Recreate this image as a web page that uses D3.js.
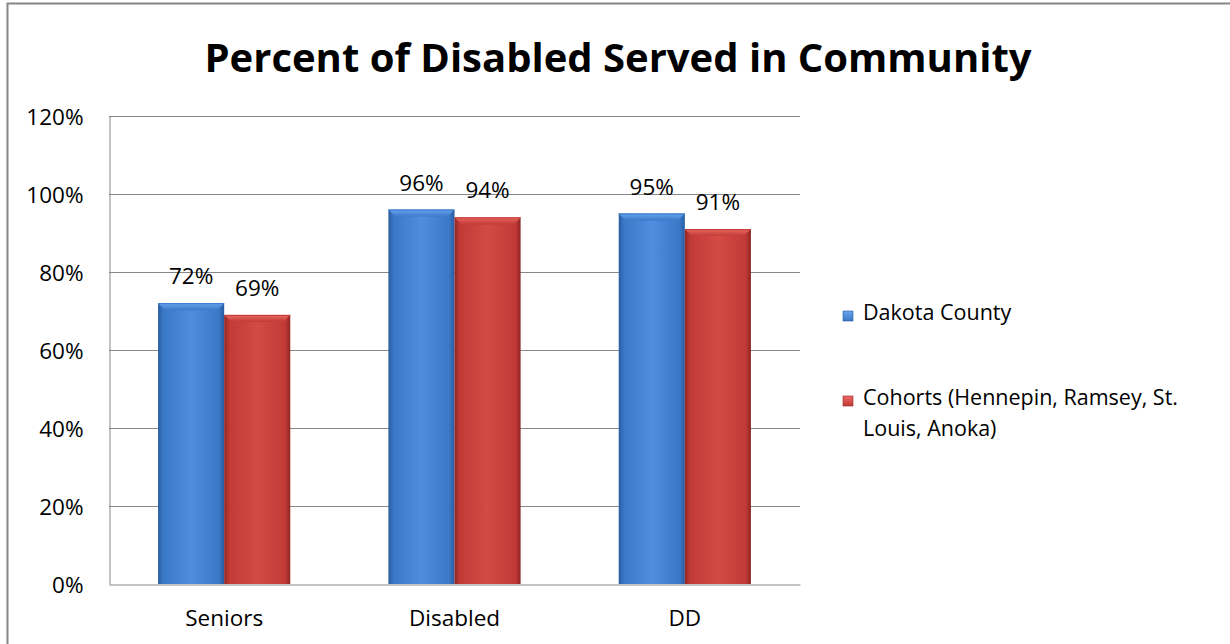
<!DOCTYPE html>
<html>
<head>
<meta charset="utf-8">
<script src="https://cdn.jsdelivr.net/npm/d3@7"></script>
<style>
  html, body { margin: 0; padding: 0; background: #fff; }
  svg { display: block; }
  text { font-family: "Open Sans", "Noto Sans", "Liberation Sans", sans-serif; fill: #000; }
</style>
</head>
<body>
<svg id="chart" width="1230" height="644"></svg>
<script>
// Chart data
const categories = ["Seniors", "Disabled", "DD"];
const seriesNames = ["Dakota County", "Cohorts (Hennepin, Ramsey, St. Louis, Anoka)"];
const dakotaValues = [0.72, 0.96, 0.95];
const cohortValues = [0.69, 0.94, 0.91];
const yTicks = [0, 0.2, 0.4, 0.6, 0.8, 1.0, 1.2];

const svg = d3.select("#chart");
const W = 1230, H = 644;
const plot = { left: 109, right: 800, top: 116, bottom: 584 };
const labelSize = "22.5px";
const legendSize = "21.5px";

// Outer chart frame
svg.append("rect")
  .attr("x", 7.5).attr("y", 3.5)
  .attr("width", W + 20).attr("height", H + 20)
  .attr("fill", "#fff").attr("stroke", "#868686").attr("stroke-width", 2);

// Bar gradients (bevelled look)
const defs = svg.append("defs");
const palettes = [
  { id: "blue", dark: "#2a5c9f", mid: "#3a78c8", light: "#4f8ede", top: "#6aa6ee" },
  { id: "red", dark: "#8f2624", mid: "#c23a36", light: "#d44a45", top: "#e86863" }
];
palettes.forEach(p => {
  const g = defs.append("linearGradient").attr("id", "grad-" + p.id)
    .attr("x1", "0").attr("x2", "1").attr("y1", "0").attr("y2", "0");
  g.append("stop").attr("offset", "0").attr("stop-color", p.dark);
  g.append("stop").attr("offset", "0.08").attr("stop-color", p.mid);
  g.append("stop").attr("offset", "0.5").attr("stop-color", p.light);
  g.append("stop").attr("offset", "0.92").attr("stop-color", p.mid);
  g.append("stop").attr("offset", "1").attr("stop-color", p.dark);
  const t = defs.append("linearGradient").attr("id", "top-" + p.id)
    .attr("x1", "0").attr("x2", "0").attr("y1", "0").attr("y2", "1");
  t.append("stop").attr("offset", "0").attr("stop-color", p.top);
  t.append("stop").attr("offset", "1").attr("stop-color", p.mid);
});

// Scales
const y = d3.scaleLinear().domain([0, 1.2]).range([plot.bottom, plot.top]);
const x0 = d3.scaleBand().domain(categories).range([plot.left, plot.right]).paddingInner(0.426).paddingOuter(0.213);
const x1 = d3.scaleBand().domain(seriesNames).range([0, x0.bandwidth()]);

// Gridlines
svg.append("g").selectAll("line").data(yTicks.filter(d => d > 0)).join("line")
  .attr("x1", plot.left).attr("x2", plot.right)
  .attr("y1", d => Math.round(y(d)) + 0.5).attr("y2", d => Math.round(y(d)) + 0.5)
  .attr("stroke", "#888").attr("stroke-width", 1);

// Y axis
const yAxis = svg.append("g").attr("transform", `translate(${plot.left + 0.5},0)`)
  .call(d3.axisLeft(y).tickValues(yTicks).tickFormat(d3.format(".0%")).tickSize(0).tickPadding(26));
yAxis.select(".domain").attr("stroke", "#888");
yAxis.selectAll("text").style("font-size", labelSize).attr("dy", "0.36em");

// X axis
const xAxis = svg.append("g").attr("transform", `translate(0,${plot.bottom + 0.5})`)
  .call(d3.axisBottom(x0).tickSize(0).tickPadding(26).tickSizeOuter(0));
xAxis.select(".domain").attr("stroke", "#888");
xAxis.selectAll("text").style("font-size", labelSize);

// Bars
const rows = categories.map((c, i) => ({ cat: c, vals: [dakotaValues[i], cohortValues[i]] }));
const groups = svg.append("g").selectAll("g").data(rows).join("g")
  .attr("transform", d => `translate(${x0(d.cat)},0)`);

groups.each(function (row) {
  const g = d3.select(this);
  row.vals.forEach((v, si) => {
    const p = palettes[si];
    const bx = x1(seriesNames[si]);
    const bw = x1.bandwidth();
    const by = y(v);
    const bh = y(0) - y(v);
    g.append("rect").attr("x", bx).attr("y", by).attr("width", bw).attr("height", bh)
      .attr("fill", `url(#grad-${p.id})`);
    // bevelled top edge
    const b = 7;
    g.append("path")
      .attr("d", `M${bx},${by} L${bx + bw},${by} L${bx + bw - b},${by + b} L${bx + b},${by + b} Z`)
      .attr("fill", `url(#top-${p.id})`);
    g.append("line").attr("x1", bx).attr("x2", bx + bw).attr("y1", by + 0.5).attr("y2", by + 0.5)
      .attr("stroke", p.mid).attr("stroke-width", 1);
    // value label
    g.append("text")
      .attr("x", bx + bw / 2).attr("y", by - 19)
      .attr("text-anchor", "middle")
      .style("font-size", labelSize)
      .text(d3.format(".0%")(v));
  });
});

// Title
svg.append("text")
  .attr("x", 618).attr("y", 72)
  .attr("text-anchor", "middle")
  .style("font-size", "40px").style("font-weight", "bold")
  .text("Percent of Disabled Served in Community");

// Legend
const legend = svg.append("g");
const legendItems = [
  { name: seriesNames[0], lines: ["Dakota County"], y: 320 },
  { name: seriesNames[1], lines: ["Cohorts (Hennepin, Ramsey, St.", "Louis, Anoka)"], y: 405 }
];
legendItems.forEach((item, i) => {
  const p = palettes[i];
  legend.append("rect").attr("x", 843).attr("y", item.y - 9).attr("width", 10).attr("height", 10)
    .attr("fill", `url(#top-${p.id})`).attr("stroke", p.dark).attr("stroke-width", 0.6);
  const t = legend.append("text").attr("x", 863).attr("y", item.y).style("font-size", legendSize);
  item.lines.forEach((ln, k) => {
    t.append("tspan").attr("x", 863).attr("dy", k === 0 ? 0 : 31).text(ln);
  });
});
</script>
</body>
</html>
